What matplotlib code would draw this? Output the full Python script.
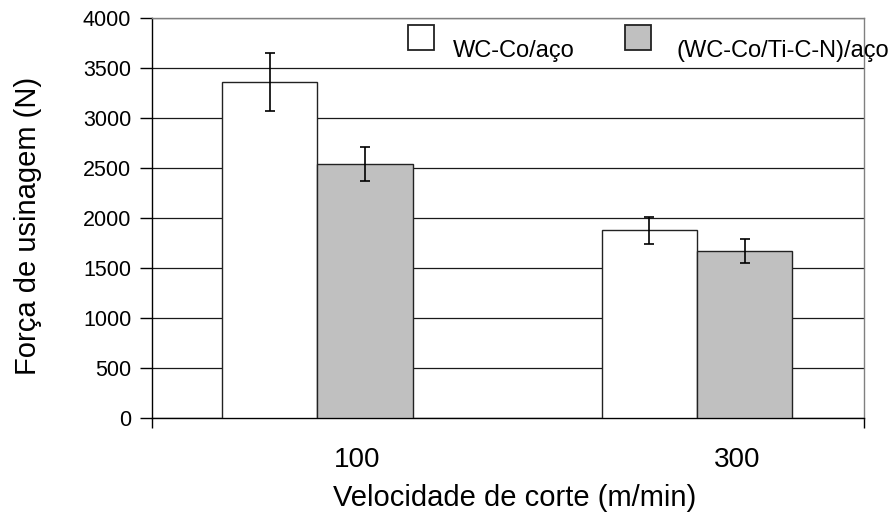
import numpy as np
import matplotlib
matplotlib.use("Agg")
import matplotlib.pyplot as plt
from matplotlib.patches import Rectangle

categories = ["100", "300"]
series_names = ["WC-Co/aço", "(WC-Co/Ti-C-N)/aço"]
wc_co = [3360, 1880]
wc_co_err = [290, 135]
coated = [2545, 1675]
coated_err = [170, 120]
yticks = [0, 500, 1000, 1500, 2000, 2500, 3000, 3500, 4000]

plt.rcParams['font.family'] = ['Liberation Sans', 'DejaVu Sans']

W, H = 896, 523
fig = plt.figure(figsize=(W / 100, H / 100), dpi=100)
L, R, T, B = 152, 864, 18, 418
ax = fig.add_axes([L / W, 1 - B / H, (R - L) / W, (B - T) / H])

x = np.arange(len(categories))
bw = 0.2516
ax.bar(x - bw / 2, wc_co, bw, color='white', edgecolor='#222222', linewidth=1.0, zorder=3)
ax.bar(x + bw / 2, coated, bw, color='#c0c0c0', edgecolor='#222222', linewidth=1.0, zorder=3)
ax.errorbar(x - bw / 2, wc_co, yerr=wc_co_err, fmt='none', ecolor='black', elinewidth=1.2,
            capsize=3.5, capthick=1.2, zorder=4)
ax.errorbar(x + bw / 2, coated, yerr=coated_err, fmt='none', ecolor='black', elinewidth=1.2,
            capsize=3.5, capthick=1.2, zorder=4)

ax.set_xlim(-0.436, 1.440)
ax.set_ylim(0, 4000)
ax.set_yticks(yticks)
ax.set_yticklabels([str(v) for v in yticks], fontsize=15.5)
ax.yaxis.grid(True, color='#1a1a1a', linewidth=0.9, zorder=0)
ax.set_axisbelow(True)

ax.set_xticks(x + 0.105)
ax.set_xticklabels(categories, fontsize=20)
ax.tick_params(axis='x', length=0, pad=21)
ax.set_xticks([-0.436, 1.440], minor=True)
ax.tick_params(axis='x', which='minor', length=7, width=1, color='black', direction='out')
ax.tick_params(axis='y', length=9, width=1, direction='out', pad=6)

for s in ['left', 'bottom']:
    ax.spines[s].set_color('black')
    ax.spines[s].set_linewidth(1.0)
for s in ['top', 'right']:
    ax.spines[s].set_color('#808080')
    ax.spines[s].set_linewidth(1.0)

fig.text(28 / W, 1 - 226 / H, "Força de usinagem (N)", rotation=90, fontsize=21,
         ha='center', va='center')
fig.text(515 / W, 1 - 498 / H, "Velocidade de corte (m/min)", fontsize=21,
         ha='center', va='center')

# legend (manual, no frame)
fills = ['white', '#c0c0c0']
sq_x = [408, 625]
txt_x = [453, 677]
for name, fc, sx, tx in zip(series_names, fills, sq_x, txt_x):
    fig.add_artist(Rectangle((sx / W, 1 - 50 / H), 26 / W, 25 / H, transform=fig.transFigure,
                             facecolor=fc, edgecolor='#222222', linewidth=1.3))
    fig.text(tx / W, 1 - 57 / H, name, fontsize=17, ha='left', va='baseline')

fig.savefig("out.png", dpi=100)
